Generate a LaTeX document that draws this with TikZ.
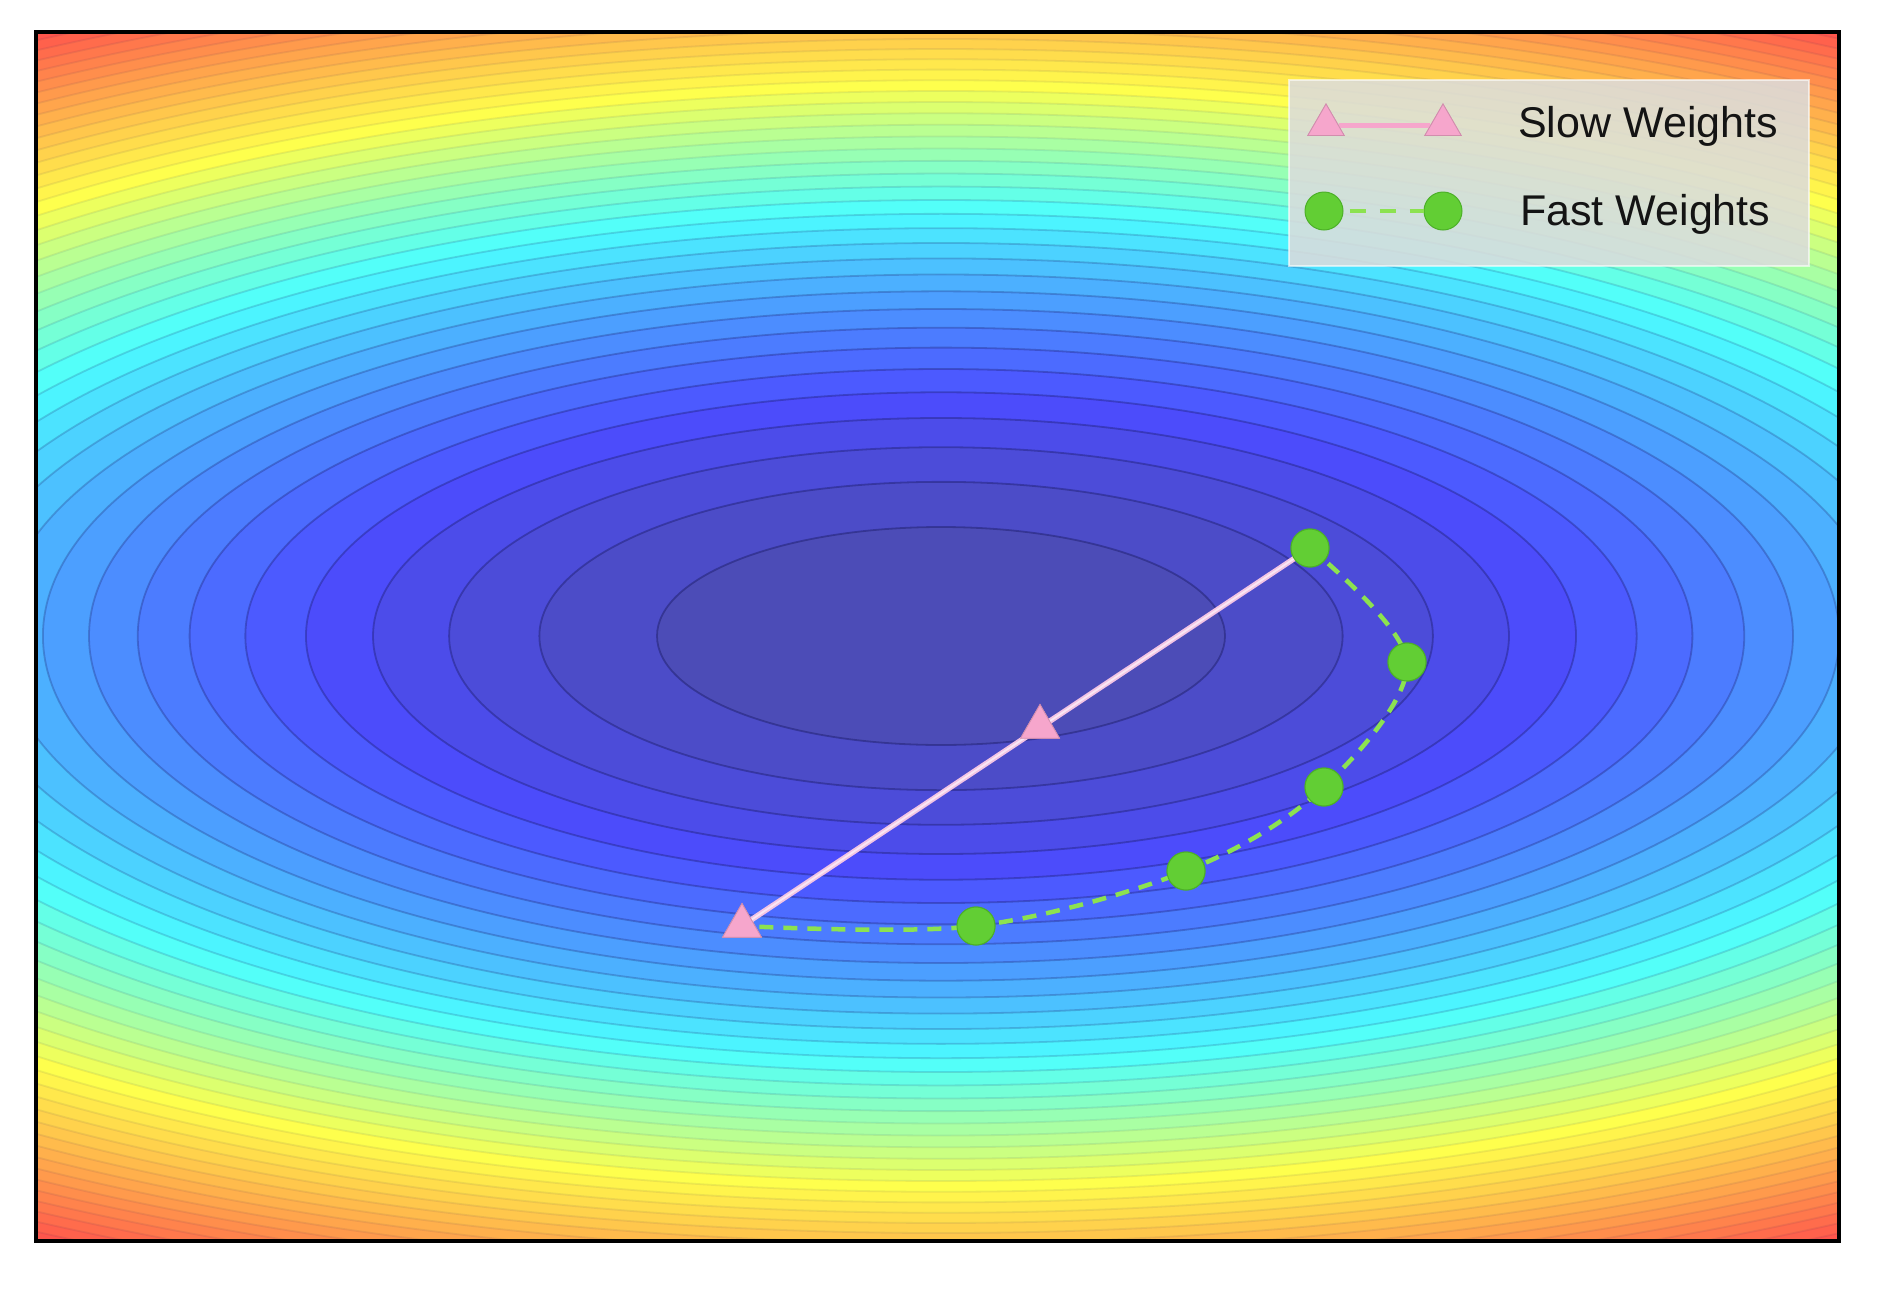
\documentclass[tikz,border=0pt]{standalone}
\usepackage{fontspec}
\setmainfont{Liberation Sans}
\usetikzlibrary{shapes.geometric}
\definecolor{slowpink}{RGB}{246,166,204}
\definecolor{slowline}{RGB}{242,196,228}
\definecolor{fastgreen}{RGB}{98,206,52}
\definecolor{fastedge}{RGB}{76,176,40}
\definecolor{fastdash}{RGB}{140,226,80}
\definecolor{legendgray}{RGB}{220,220,220}
\definecolor{contourline}{RGB}{20,20,90}
\tikzset{
  slowmark/.style={regular polygon, regular polygon sides=3, fill=slowpink,
    draw=slowpink!85!black, line width=0.8pt, inner sep=0pt, minimum size=45pt},
  fastmark/.style={circle, fill=fastgreen, draw=fastedge, line width=1pt,
    inner sep=0pt, minimum size=38pt},
  slowpath/.style={draw=slowline, line width=5.5pt},
  slowcore/.style={draw=white, draw opacity=0.6, line width=1.8pt},
  fastpath/.style={draw=fastdash, line width=4.5pt, dash pattern=on 14pt off 10pt},
  legtext/.style={anchor=west, inner sep=0pt, text=black!92,
    font=\fontsize{43}{50}\selectfont},
  legendbox/.style={fill=legendgray, fill opacity=0.88, draw=white, draw opacity=0.6,
    line width=1.5pt, minimum width=520pt, minimum height=186pt, inner sep=0pt},
  plotframe/.style={draw=black, line width=3.5pt}
}
\begin{document}
\begin{tikzpicture}[x=1pt,y=-1pt]
\useasboundingbox (0,0) rectangle (1877,1288);
\fill[white] (0,0) rectangle (1877,1288);
\coordinate (ctr) at (941,636);
% contour bands (jet colormap, alpha 0.7 over white)
\begin{scope}
  \clip (36,32) rectangle (1839,1241);
  \foreach \n in {44,43,...,1}{
    \pgfmathsetmacro\mv{\n-0.5}
    \pgfmathsetmacro\tv{min(0.012+0.024*\mv, 0.625+0.0158*(\mv-25.5))}
    \pgfmathsetmacro\rv{0.3+0.7*max(0,min(1,1.5-abs(4*\tv-3)))}
    \pgfmathsetmacro\gv{0.3+0.7*max(0,min(1,1.5-abs(4*\tv-2)))}
    \pgfmathsetmacro\bv{0.3+0.7*max(0,min(1,1.5-abs(4*\tv-1)))}
    \definecolor{bandcol}{rgb}{\rv,\gv,\bv}
    \pgfmathsetmacro\ax{284*sqrt(\n)}
    \pgfmathsetmacro\ay{109*sqrt(\n)}
    \pgfmathsetmacro\op{max(0.08,0.42-0.017*\n)}
    \filldraw[fill=bandcol, draw=contourline, draw opacity=\op, line width=1.8pt]
      (ctr) ellipse [x radius=\ax pt, y radius=\ay pt];
  }
\end{scope}
\draw[plotframe] (36,32) rectangle (1839,1241);

% trajectory markers
\node[slowmark] (s0) at (742,926) {};
\node[slowmark] (s1) at (1040,727) {};
\node[fastmark] (g1) at (1310,548) {};
\node[fastmark] (g2) at (1407,662) {};
\node[fastmark] (g3) at (1324,787) {};
\node[fastmark] (g4) at (1186,871) {};
\node[fastmark] (g5) at (976,926) {};

% paths
\path[slowpath] (g1.center) -- (s0.center);
\path[slowcore] (g1.center) -- (s0.center);
\draw[fastpath] plot[smooth, tension=0.55] coordinates {(g1) (g2) (g3) (g4) (g5) (s0)};

% markers on top of the paths
\node[slowmark] at (s0) {};
\node[slowmark] at (s1) {};
\foreach \g in {g1,g2,g3,g4,g5}{\node[fastmark] at (\g) {};}

% legend
\node[legendbox] (legend) at (1549,173) {};
\node[slowmark, minimum size=42pt] (ls1) at (1326,125) {};
\node[slowmark, minimum size=42pt] (ls2) at (1443,125) {};
\draw[draw=slowpink, line width=5pt] (ls1) -- (ls2);
\node[slowmark, minimum size=42pt] at (ls1) {};
\node[slowmark, minimum size=42pt] at (ls2) {};
\node[fastmark] (lf1) at (1324,211) {};
\node[fastmark] (lf2) at (1443,211) {};
\draw[fastpath, dash pattern=on 16pt off 14pt, dash phase=-6pt] (lf1) -- (lf2);
\node[legtext] (tslow) at (1518,126) {Slow Weights};
\node[legtext] (tfast) at (1520,214) {Fast Weights};
\end{tikzpicture}
\end{document}
